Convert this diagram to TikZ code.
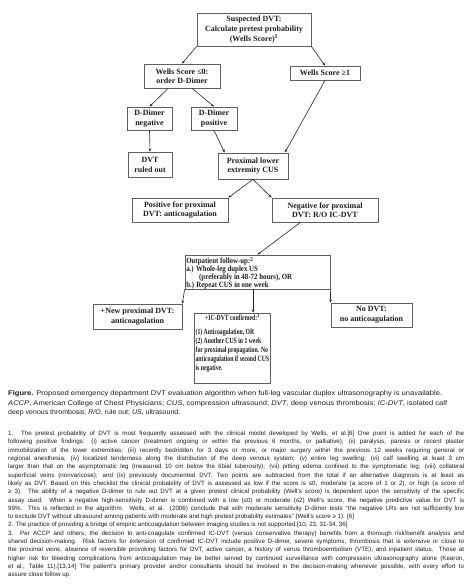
\documentclass[tikz,border=0pt]{standalone}
\usepackage{fontspec}
\usepackage{graphicx}
\setmainfont{Liberation Serif}
\setsansfont{Liberation Sans}
\usetikzlibrary{arrows.meta,calc}
\definecolor{boxline}{RGB}{95,95,95}
\definecolor{txt}{RGB}{30,30,30}
\definecolor{arr}{RGB}{40,40,40}
\newcommand\jl[1]{\makebox[456pt][s]{#1}}
\newcommand\fitline[2]{\resizebox{#1}{\height}{#2}}
\tikzset{
  fbox/.style={draw=boxline, line width=0.8pt, fill=white, text=txt,
    font=\bfseries\fontsize{8}{9.6}\selectfont, align=center, inner sep=1pt},
  conn/.style={draw=arr, line width=0.6pt, -{Stealth[length=3.2pt,width=2.6pt]}},
  plain/.style={inner sep=0pt, text=txt}
}
\begin{document}
\begin{tikzpicture}[x=1pt,y=-1pt]
\path[use as bounding box, fill=white] (0,0) rectangle (474,588);

% boxes
\node[fbox, minimum width=114, minimum height=33, font=\bfseries\fontsize{8}{10}\selectfont] (sus) at (254,29.5)
  {Suspected DVT:\\Calculate pretest probability\\(Wells Score)\textsuperscript{1}};
\node[fbox, minimum width=76, minimum height=24, font=\bfseries\fontsize{8}{9}\selectfont] (w0) at (182,76)
  {Wells Score ≤0:\\order D-Dimer};
\node[fbox, minimum width=70, minimum height=14] (w1) at (325,73) {Wells Score ≥1};
\node[fbox, minimum width=45, minimum height=23, font=\bfseries\fontsize{8}{10}\selectfont] (dneg) at (149.5,118.5)
  {D-Dimer\\negative};
\node[fbox, minimum width=46, minimum height=23, font=\bfseries\fontsize{8}{10}\selectfont] (dpos) at (214,118.5)
  {D-Dimer\\positive};
\node[fbox, minimum width=44, minimum height=25, font=\bfseries\fontsize{8}{10}\selectfont] (ruled) at (150,164.5)
  {DVT\\ruled out};
\node[fbox, minimum width=70, minimum height=26, font=\bfseries\fontsize{8}{9.5}\selectfont] (cus) at (253,166)
  {Proximal lower\\extremity CUS};
\node[fbox, minimum width=96, minimum height=24, font=\bfseries\fontsize{8}{8.8}\selectfont] (pos) at (180,210)
  {Positive for proximal\\DVT: anticoagulation};
\node[fbox, minimum width=106, minimum height=24, font=\bfseries\fontsize{8}{8.8}\selectfont] (negp) at (325,210)
  {Negative for proximal\\DVT: R/O IC-DVT};
\node[fbox, minimum width=145, minimum height=34] (out) at (257.5,272) {};
\node[plain, anchor=north west, font=\bfseries\fontsize{8}{7.8}\selectfont] (outtext) at ([xshift=1.5pt,yshift=-2.3pt]out.north west)
  {\scalebox{0.86}[1]{\begin{tabular}{@{}l@{}}Outpatient follow-up:\textsuperscript{2}\\
   a.) Whole-leg duplex US\\
   \hspace*{15pt}(preferably in 48-72 hours), OR\\
   b.) Repeat CUS in one week\end{tabular}}};
\node[fbox, minimum width=89, minimum height=25, font=\bfseries\fontsize{8}{9.7}\selectfont] (newp) at (137.5,316.5)
  {+New proximal DVT:\\anticoagulation};
\node[fbox, minimum width=76, minimum height=70, anchor=north west] (ic) at (194,312.7) {};
\node[plain, anchor=north, font=\bfseries\fontsize{8}{9}\selectfont] (ictext) at ([yshift=-0.6pt]ic.north)
  {\scalebox{0.715}[1]{\begin{tabular}{@{}l@{}}\multicolumn{1}{@{}c@{}}{+IC-DVT confirmed:\textsuperscript{3}}\\[5pt]
   (1) Anticoagulation, OR\\
   (2) Another CUS in 1 week\\
   for proximal propagation. No\\
   anticoagulation if second CUS\\
   is negative.\end{tabular}}};
\node[fbox, minimum width=81, minimum height=24, font=\bfseries\fontsize{8}{9.7}\selectfont] (nodvt) at (371.5,315)
  {No DVT:\\no anticoagulation};

% connectors
\draw[conn] (sus.south west) -- (w0.north);
\draw[conn] (sus.south east) -- (w1.north);
\draw[conn] ($(w0.south west)!0.32!(w0.south east)$) -- (dneg.north);
\draw[conn] ($(w0.south west)!0.63!(w0.south east)$) -- (dpos.north);
\draw[conn] (dneg.south) -- (ruled.north);
\draw[conn] (dpos.south) -- ($(cus.north west)!0.1!(cus.north east)$);
\draw[conn] (w1.south) -- ($(cus.north west)!0.95!(cus.north east)$);
\draw[conn] (cus.south) -- (pos.north east);
\draw[conn] (cus.south) -- (negp.north west);
\draw[conn] ($(negp.south west)!0.27!(negp.south east)$) -- (out.north);
\coordinate (outmid) at ($(out.south west)!0.47!(out.south east)$);
\draw[conn] (outmid) -- (outmid |- ic.north);
\draw[conn] (out.south west) -- (newp.north east);
\draw[conn] (out.south east) -- (nodvt.north west);

% caption
\node[plain, anchor=north west, align=left, font=\sffamily\fontsize{6.8}{9.5}\selectfont] (cap) at (8,390.5)
  {\fitline{434pt}{\textbf{Figure.} Proposed emergency department DVT evaluation algorithm when full-leg vascular duplex ultrasonography is unavailable.}\\
  \fitline{439pt}{\textit{ACCP}, American College of Chest Physicians; \textit{CUS}, compression ultrasound; \textit{DVT}, deep venous thrombosis; \textit{IC-DVT}, isolated calf}\\
  \scalebox{1.03}[1]{deep venous thrombosis; \textit{R/O}, rule out; \textit{US}, ultrasound.}};

% footnotes
\node[plain, anchor=north west, align=left, font=\sffamily\fontsize{6.2}{8.3}\selectfont] (fn) at (8,431)
  {\jl{1. The pretest probability of DVT is most frequently assessed with the clinical model developed by Wells, et al.[6] One point is added for each of the}\\
  \jl{following positive findings: (i) active cancer (treatment ongoing or within the previous 6 months, or palliative); (ii) paralysis, paresis or recent plaster}\\
  \jl{immobilization of the lower extremities; (iii) recently bedridden for 3 days or more, or major surgery within the previous 12 weeks requiring general or}\\
  \jl{regional anesthesia; (iv) localized tenderness along the distribution of the deep venous system; (v) entire leg swelling; (vi) calf swelling at least 3 cm}\\
  \jl{larger than that on the asymptomatic leg (measured 10 cm below the tibial tuberosity); (vii) pitting edema confined to the symptomatic leg; (viii) collateral}\\
  \jl{superficial veins (nonvaricose); and (ix) previously documented DVT. Two points are subtracted from the total if an alternative diagnosis is at least as}\\
  \jl{likely as DVT. Based on this checklist the clinical probability of DVT is assessed as low if the score is ≤0, moderate (a score of 1 or 2), or high (a score of}\\
  \jl{≥ 3). The ability of a negative D-dimer to rule out DVT at a given pretest clinical probability (Well's score) is dependent upon the sensitivity of the specific}\\
  \jl{assay used. When a negative high-sensitivity D-dimer is combined with a low (≤0) or moderate (≤2) Well's score, the negative predictive value for DVT is}\\
  \jl{99\%. This is reflected in the algorithm. Wells, et al. (2006) conclude that with moderate sensitivity D-dimer tests ``the negative LRs are not sufficiently low}\\
  to exclude DVT without ultrasound among patients with moderate and high pretest probability estimates'' (Well's score ≥ 1). [6]\\
  2. The practice of providing a bridge of empiric anticoagulation between imaging studies is not supported.[10, 23, 31-34, 36]\\
  \jl{3. Per ACCP and others, the decision to anti-coagulate confirmed IC-DVT (versus conservative therapy) benefits from a thorough risk/benefit analysis and}\\
  \jl{shared decision-making. Risk factors for extension of confirmed IC-DVT include positive D-dimer, severe symptoms, thrombosis that is extensive or close to}\\
  \jl{the proximal veins, absence of reversible provoking factors for DVT, active cancer, a history of venus thromboembolism (VTE), and inpatient status. Those at}\\
  \jl{higher risk for bleeding complications from anticoagulation may be better served by continued surveillance with compression ultrasonography alone (Kearon,}\\
  \jl{et al.; Table 11).[13,14] The patient's primary provider and/or consultants should be involved in the decision-making whenever possible, with every effort to}\\
  assure close follow up.};
\end{tikzpicture}
\end{document}
